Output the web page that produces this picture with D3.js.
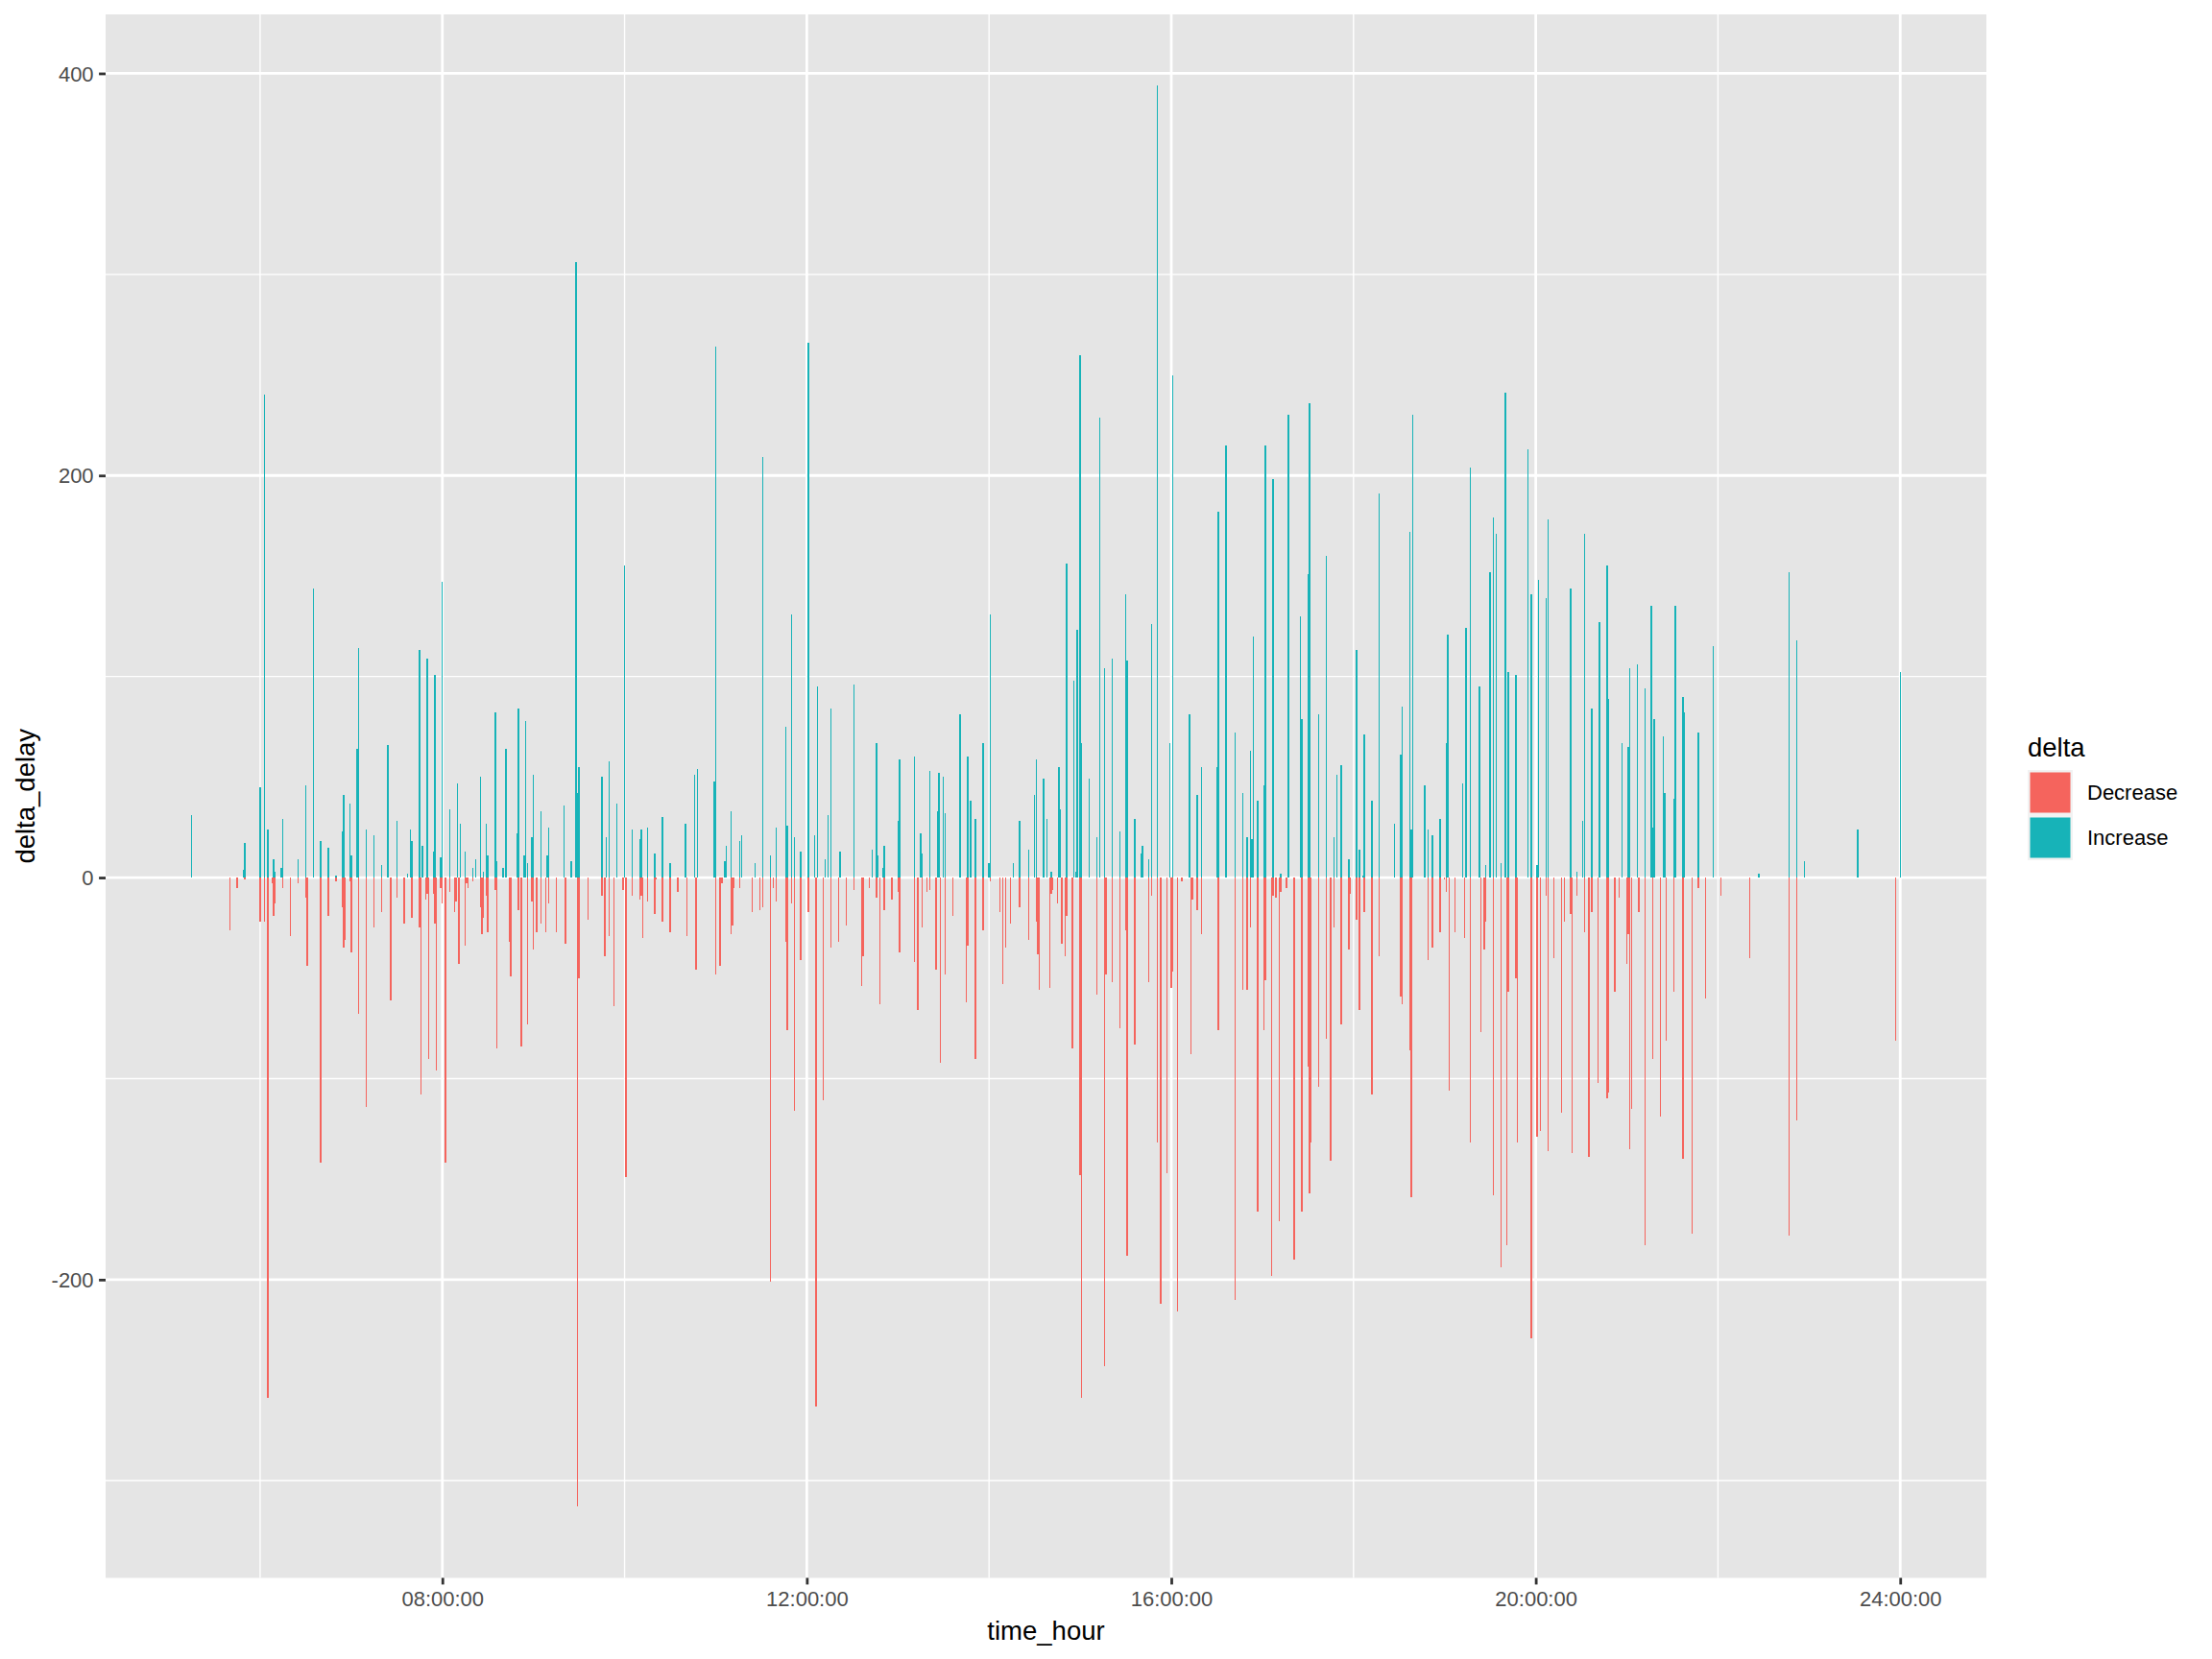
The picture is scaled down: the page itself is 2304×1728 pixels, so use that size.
<!DOCTYPE html>
<html><head><meta charset="utf-8">
<script src="https://cdn.jsdelivr.net/npm/d3@7/dist/d3.min.js"></script>
<style>
body{margin:0;background:#fff}
svg text{font-family:"Liberation Sans",Arial,Helvetica,sans-serif}
</style>
</head><body>
<svg id="chart" width="2304" height="1728"></svg>
<script>
// time of day in minutes after midnight, delta_delay in minutes
const increaseMinute = [315,349,350,360,363,365,369,370,374,375,385,390,395,400,405,410,414,415,419,420,424,425,430,435,440,444,450,457,459,460,465,467,470,474,475,479,480,485,490,492,495,
500,502,505,507,509,510,515,516,520,522,529,530,534,535,536,539,540,545,549,550,560,565,568,569,570,585,588,590,595,600,605,610,611,615,620,625,630,640,646,648,659,660,666,667,670,676,677,686,
691,696,700,706,707,710,712,716,721,725,727,732,734,736,742,751,763,766,767,770,771,780,781,791,795,796,801,806,807,810,811,821,826,828,831,836,840,841,856,860,866,870,871,876,878,
881,886,887,891,896,897,898,900,901,906,911,913,916,921,926,930,931,936,940,941,945,947,951,959,961,972,977,980,990,991,996,1002,1007,1010,1012,1013,1014,1017,1021,1022,1027,1032,1037,1045,1046,1050,1051,1057,1062,1067,
1069,1072,1077,1082,1084,1086,1087,1092,1097,1107,1111,1112,1117,1118,1119,1127,1129,1132,1137,1141,1142,1152,1154,1157,1163,1167,1170,1172,1174,1177,1180,1182,1187,1195,1197,1201,1202,1207,1208,1223,1227,1231,1232,1237,1242,1247,1248,1257,
1261,1262,1267,1272,1276,1277,1278,1284,1285,1291,1292,1297,1298,1307,1317,1347,1367,1372,1377,1412,1440];
const increaseDelay = [31,4,17,45,240,24,9,3,5,29,9,46,144,18,15,1,23,41,37,11,64,114,24,21,6,66,28,2,24,18,113,16,109,13,101,10,147,34,47,27,13,
5,9,50,3,27,11,82,8,5,64,22,84,11,78,7,20,51,33,11,25,36,8,306,42,55,50,20,58,37,155,24,19,24,25,12,30,7,27,51,54,48,264,8,16,33,18,21,7,
209,11,25,75,26,131,20,13,266,21,95,9,31,84,13,96,14,67,11,5,16,28,59,60,22,12,53,33,52,50,32,81,60,38,29,67,7,131,7,28,14,41,59,49,29,
3,55,34,156,98,3,123,260,67,49,20,229,104,109,23,141,108,29,12,16,9,126,394,67,250,81,41,55,55,182,215,72,42,20,63,19,120,38,46,215,198,2,230,130,79,151,236,81,160,20,
51,56,9,113,14,1,71,38,191,27,61,85,172,24,230,46,24,21,29,67,121,47,124,204,95,6,152,179,171,7,241,102,101,213,141,6,148,139,178,144,3,28,171,84,127,155,89,67,
65,104,106,94,135,25,79,70,42,39,135,90,82,72,115,2,152,118,8,24,102];

const decreaseMinute = [340,345,350,360,363,365,368,369,370,375,380,385,390,391,400,405,410,414,415,416,419,420,425,430,435,440,446,450,455,460,465,466,469,470,471,474,475,476,479,480,482,485,488,489,491,495,496,497,
500,505,506,507,509,510,515,516,524,525,530,532,536,539,540,542,545,548,550,555,561,569,570,576,585,587,590,593,599,601,605,610,611,612,615,620,621,625,630,635,641,647,660,663,664,670,671,672,676,684,
689,691,696,698,700,706,707,710,712,716,721,726,731,736,741,746,751,756,757,761,766,768,771,776,780,781,791,793,796,799,801,805,808,811,816,825,826,831,836,841,847,849,851,854,860,866,871,872,873,
880,881,882,885,888,890,891,895,900,901,911,916,917,921,926,930,931,936,945,947,951,953,957,960,961,964,967,973,974,977,980,991,1002,1007,1010,1012,1017,1021,1022,1026,1027,1029,1031,1032,1036,1041,1046,1050,1051,1052,1057,1062,1065,1067,
1072,1077,1078,1082,1084,1087,1092,1097,1111,1112,1117,1118,1129,1132,1137,1140,1141,1143,1147,1153,1157,1164,1166,1167,1172,1177,1181,1182,1187,1188,1197,1201,1203,1207,1208,1212,1217,1219,1223,1224,1227,1232,1235,1237,1241,1247,1248,1252,1255,
1260,1261,1262,1263,1268,1272,1277,1282,1286,1291,1297,1303,1307,1312,1322,1341,1367,1372,1437];
const decreaseDelay = [-26,-5,-1,-22,-22,-259,-3,-19,-13,-5,-29,-3,-10,-44,-142,-19,-2,-15,-35,-31,-2,-37,-68,-114,-25,-17,-61,-10,-23,-20,-25,-108,-11,-8,-90,-8,-23,-96,-5,-13,-142,-7,-17,-12,-43,-34,-3,-5,
-2,-15,-28,-20,-9,-27,-6,-85,-32,-49,-16,-84,-73,-12,-36,-27,-23,-27,-13,-27,-33,-313,-50,-21,-9,-39,-29,-64,-6,-149,-9,-11,-9,-30,-12,-18,-1,-22,-27,-7,-29,-46,-48,-44,-3,-28,-24,-5,-5,-17,
-16,-15,-201,-5,-12,-32,-76,-13,-116,-41,-17,-263,-111,-35,-32,-24,-6,-54,-39,-5,-10,-63,-16,-11,-7,-37,-42,-66,-25,-7,-6,-46,-92,-48,-19,-62,-34,-90,-26,-2,-17,-53,-35,-23,-15,-31,-22,-38,-56,
-55,-8,-6,-13,-33,-39,-19,-85,-148,-259,-58,-243,-48,-52,-75,-26,-188,-83,-52,-9,-132,-212,-147,-55,-47,-216,-2,-88,-11,-16,-28,-76,-210,-56,-56,-25,-166,-76,-51,-198,-9,-10,-171,-7,-5,-190,-166,-94,-157,-132,-104,-80,-141,-25,
-73,-36,-8,-21,-66,-17,-108,-39,-59,-63,-86,-159,-41,-35,-27,-1,-7,-106,-27,-30,-132,-77,-36,-22,-158,-194,-183,-57,-50,-132,-229,-129,-126,-9,-136,-40,-117,-22,-18,-137,-9,-27,-139,-17,-102,-110,-107,-57,-10,
-43,-28,-135,-115,-17,-183,-90,-119,-81,-57,-140,-177,-5,-60,-9,-40,-178,-121,-81];

const deltaLevels = ["Decrease","Increase"];
const deltaColors = ["#F5645D","#17B3B8"];
const xMajorTicks = [480,720,960,1200,1440];
const xMinorTicks = [360,600,840,1080,1320];
const yMajorTicks = [-200,0,200,400];
const yMinorTicks = [-300,-100,100,300];

const bars = [];
increaseMinute.forEach((m,i)=>bars.push({t:m,v:increaseDelay[i],k:"Increase"}));
decreaseMinute.forEach((m,i)=>bars.push({t:m,v:decreaseDelay[i],k:"Decrease"}));

const svg = d3.select("#chart");
const P = {left:110, right:2069, top:15, bottom:1643.5};
const barW = 0.9;
const allT = bars.map(d=>d.t);
const x0 = d3.min(allT)-barW/2, x1 = d3.max(allT)+barW/2, xp=(x1-x0)*0.05;
const x = d3.scaleLinear().domain([x0-xp, x1+xp]).range([P.left, P.right]);
const allV = bars.map(d=>d.v);
const y0 = d3.min(allV), y1 = d3.max(allV), yp=(y1-y0)*0.05;
const y = d3.scaleLinear().domain([y0-yp, y1+yp]).range([P.bottom, P.top]);
const color = d3.scaleOrdinal().domain(deltaLevels).range(deltaColors);

svg.append("rect").attr("width",2304).attr("height",1728).attr("fill","#fff");
svg.append("rect").attr("x",P.left).attr("y",P.top).attr("width",P.right-P.left).attr("height",P.bottom-P.top).attr("fill","#E5E5E5");

const g = svg.append("g");
const minorW = 1.4, majorW = 2.8;
yMinorTicks.forEach(v=>g.append("line").attr("x1",P.left).attr("x2",P.right).attr("y1",y(v)).attr("y2",y(v)).attr("stroke","#fff").attr("stroke-width",minorW));
xMinorTicks.forEach(v=>g.append("line").attr("y1",P.top).attr("y2",P.bottom).attr("x1",x(v)).attr("x2",x(v)).attr("stroke","#fff").attr("stroke-width",minorW));
yMajorTicks.forEach(v=>g.append("line").attr("x1",P.left).attr("x2",P.right).attr("y1",y(v)).attr("y2",y(v)).attr("stroke","#fff").attr("stroke-width",majorW));
xMajorTicks.forEach(v=>g.append("line").attr("y1",P.top).attr("y2",P.bottom).attr("x1",x(v)).attr("x2",x(v)).attr("stroke","#fff").attr("stroke-width",majorW));

svg.append("g").selectAll("rect").data(bars).join("rect")
  .attr("x",d=>x(d.t-barW/2))
  .attr("width",d=>x(d.t+barW/2)-x(d.t-barW/2))
  .attr("y",d=>Math.min(y(0),y(d.v)))
  .attr("height",d=>Math.abs(y(d.v)-y(0)))
  .attr("fill",d=>color(d.k))
  .attr("shape-rendering","crispEdges");

const fmt = m => d3.format("02d")(Math.floor(m/60))+":"+d3.format("02d")(m%60)+":00";
// axes
const xAxis = d3.axisBottom(x).tickValues(xMajorTicks).tickFormat(fmt).tickSize(6.9).tickPadding(5.5);
const ax = svg.append("g").attr("transform",`translate(0,${P.bottom})`).call(xAxis);
ax.select(".domain").remove();
ax.selectAll(".tick line").attr("stroke","#333333").attr("stroke-width",majorW);
ax.selectAll(".tick text").attr("fill","#4D4D4D").attr("font-size",22).attr("dy","0.78em").attr("y",12.4);

const yAxis = d3.axisLeft(y).tickValues(yMajorTicks).tickFormat(v=>String(v)).tickSize(6.9).tickPadding(5.5);
const ay = svg.append("g").attr("transform",`translate(${P.left},0)`).call(yAxis);
ay.select(".domain").remove();
ay.selectAll(".tick line").attr("stroke","#333333").attr("stroke-width",majorW);
ay.selectAll(".tick text").attr("fill","#4D4D4D").attr("font-size",22).attr("dy","0.35em").attr("x",-12.4);

svg.append("text").attr("x",(P.left+P.right)/2).attr("y",1708).attr("text-anchor","middle").attr("font-size",27.5).attr("fill","#000").text("time_hour");
svg.append("text").attr("transform",`translate(36,${(P.top+P.bottom)/2}) rotate(-90)`).attr("text-anchor","middle").attr("font-size",27.5).attr("fill","#000").text("delta_delay");

// legend
const lg = svg.append("g");
lg.append("text").attr("x",2112).attr("y",788).attr("font-size",27.5).attr("fill","#000").text("delta");
deltaLevels.forEach((lvl,i)=>{
  const top = 802 + i*47;
  lg.append("rect").attr("x",2112).attr("y",top).attr("width",47).attr("height",47).attr("fill","#F2F2F2");
  lg.append("rect").attr("x",2114.5).attr("y",top+2.5).attr("width",42).attr("height",42).attr("fill",color(lvl));
  lg.append("text").attr("x",2174).attr("y",top+23.5).attr("dy","0.35em").attr("font-size",22).attr("fill","#000").text(lvl);
});
</script>
</body></html>
